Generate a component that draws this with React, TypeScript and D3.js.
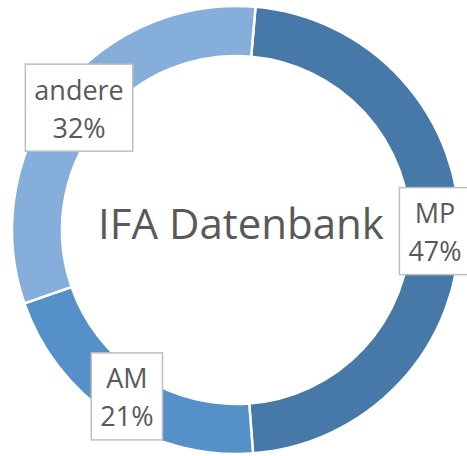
import React, { useEffect, useRef } from "react";
import * as d3 from "d3";

const categories = ["MP", "AM", "andere"];
const values = [47.4, 20.9, 31.7];
const pctLabels = ["47%", "21%", "32%"];
const colors = ["#4779A8", "#5591C8", "#85AEDB"];
const title = "IFA Datenbank";

const W = 467;
const H = 456;

export default function App() {
  const ref = useRef<SVGSVGElement | null>(null);

  useEffect(() => {
    const svg = d3.select(ref.current);
    svg.selectAll("*").remove();
    const cx = 236, cy = 230;
    const R = 224, r = 174;
    const start = (5 * Math.PI) / 180;
    const pie = d3
      .pie<number>()
      .sort(null)
      .value((d) => d)
      .startAngle(start)
      .endAngle(start + 2 * Math.PI);
    const arcs = pie(values);
    const arc = d3.arc<d3.PieArcDatum<number>>().innerRadius(r).outerRadius(R);
    const labelArc = d3.arc<d3.PieArcDatum<number>>().innerRadius(199).outerRadius(199);

    const g = svg.append("g").attr("transform", `translate(${cx},${cy})`);
    g.selectAll("path.slice")
      .data(arcs)
      .enter()
      .append("path")
      .attr("class", "slice")
      .attr("d", arc as any)
      .attr("fill", (_d, i) => colors[i])
      .attr("stroke", "#ffffff")
      .attr("stroke-width", 2.5);

    g.append("text")
      .attr("x", 5)
      .attr("y", 9)
      .attr("text-anchor", "middle")
      .attr("font-family", "Open Sans")
      .attr("font-size", 42)
      .attr("fill", "#595959")
      .text(title);

    const fontFamily = "Open Sans";
    arcs.forEach((a, i) => {
      const [lx, ly] = labelArc.centroid(a);
      const lg = g.append("g").attr("transform", `translate(${lx},${ly})`);
      const rect = lg.append("rect");
      const t1 = lg
        .append("text")
        .attr("x", 0)
        .attr("y", -8)
        .attr("text-anchor", "middle")
        .attr("font-family", fontFamily)
        .attr("font-size", 27)
        .attr("fill", "#595959")
        .text(categories[i]);
      const t2 = lg
        .append("text")
        .attr("x", 0)
        .attr("y", 30)
        .attr("text-anchor", "middle")
        .attr("font-family", fontFamily)
        .attr("font-size", 27)
        .attr("fill", "#595959")
        .text(pctLabels[i]);
      const w1 = (t1.node() as SVGTextElement).getComputedTextLength();
      const w2 = (t2.node() as SVGTextElement).getComputedTextLength();
      const w = Math.max(w1, w2) + 18;
      const h = 87;
      rect
        .attr("x", -w / 2)
        .attr("y", -h / 2)
        .attr("width", w)
        .attr("height", h)
        .attr("fill", "#ffffff")
        .attr("stroke", "#BFBFBF")
        .attr("stroke-width", 1.5);
    });
  }, []);

  return (
    <svg
      ref={ref}
      width={W}
      height={H}
      style={{ position: "absolute", left: 0, top: 0, display: "block", background: "#ffffff" }}
    />
  );
}
